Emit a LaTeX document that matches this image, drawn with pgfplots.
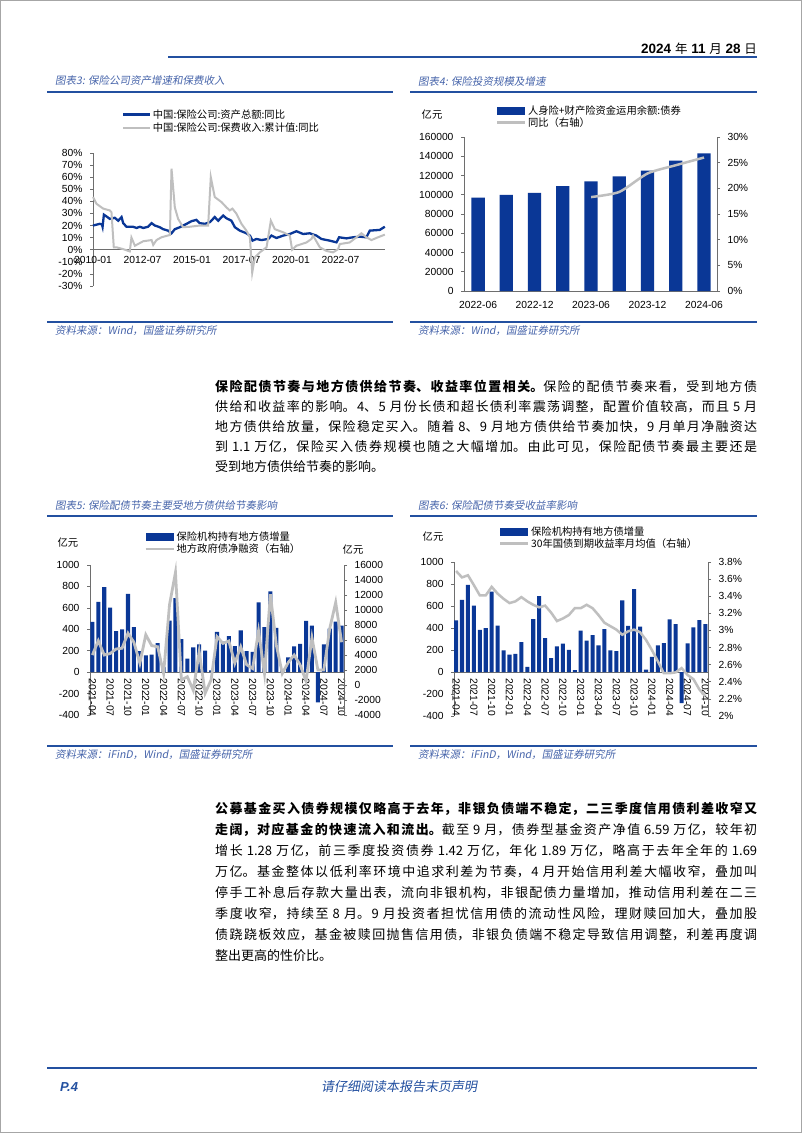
\documentclass[border=0pt]{standalone}
\usepackage{fontspec}
\setmainfont{Liberation Sans}
\newfontfamily\cjk{Noto Sans CJK SC}
\newfontfamily\cjkit{Noto Sans CJK SC}[FakeSlant=0.18]
\usepackage{pgfplots}
\pgfplotsset{compat=1.18}

\definecolor{barblue}{RGB}{10,55,150}
\definecolor{linegray}{RGB}{191,191,191}
\definecolor{rule}{RGB}{35,80,160}
\definecolor{captxt}{RGB}{70,100,170}
\definecolor{axgray}{RGB}{110,110,110}

\XeTeXlinebreaklocale "zh"
\XeTeXlinebreakskip=0pt plus 2pt

\newcommand{\tkf}{\fontsize{10.3bp}{12bp}\selectfont}
\newcommand{\lgf}{\cjk\fontsize{10.3bp}{12bp}\selectfont}
\newcommand{\capf}{\cjkit\fontsize{10.5bp}{12bp}\selectfont}

\pgfplotsset{
  pg/.style={scale only axis, clip=false,
    axis line style={-, axgray, line width=0.6bp},
    tick style={axgray, line width=0.6bp}, major tick length=3bp, tick align=outside,
    ticklabel style={font=\tkf, text=black},
    scaled y ticks=false, scaled x ticks=false,
    legend style={draw=none, fill=none, font=\lgf, inner sep=0pt, row sep=-1.5bp,
      nodes={inner sep=1.5bp}},
    legend cell align=left},
  pgL/.style={pg, axis y line*=left, yticklabel style={xshift=-4bp}},
  pgR/.style={pg, axis y line*=right, axis x line=none, yticklabel style={xshift=4bp}},
  % x axis drawn as a line at y=0, tick labels moved up to it
  zerox/.style={axis x line*=bottom, x axis line style={draw=none},
    extra y ticks={0}, extra y tick labels={},
    extra y tick style={grid=major, major grid style={axgray, line width=0.6bp}}},
}

\begin{document}
\begin{tikzpicture}
\path[use as bounding box] (0,0) rectangle (802bp,-1133bp);
\begin{scope}[x=1bp,y=-1bp]
\fill[white] (0,0) rectangle (802,1133);
\draw[gray!70, line width=1bp] (0.5,0.5) rectangle (801.5,1132.5);

% header
\node[anchor=base east, inner sep=0] at (757,53) {\fontsize{13.5bp}{15bp}\selectfont\bfseries 2024 {\cjk\mdseries\fontsize{12.5bp}{14bp}\selectfont 年} 11 {\cjk\mdseries\fontsize{12.5bp}{14bp}\selectfont 月} 28 {\cjk\mdseries\fontsize{12.5bp}{14bp}\selectfont 日}};
\draw[rule, line width=1.5bp] (168,57) -- (757,57);

% titles and rules of the upper charts
\node[anchor=west, inner sep=0, text=captxt] at (55,81) {\capf 图表3: 保险公司资产增速和保费收入};
\node[anchor=west, inner sep=0, text=captxt] at (418,81) {\capf 图表4: 保险投资规模及增速};
\draw[rule, line width=1.2bp] (47,92) -- (393,92);
\draw[rule, line width=1.2bp] (410,92) -- (757,92);
\draw[rule, line width=1.2bp] (47,322) -- (393,322);
\draw[rule, line width=1.2bp] (410,322) -- (757,322);
\node[anchor=west, inner sep=0, text=captxt] at (55,331) {\capf 资料来源：Wind，国盛证券研究所};
\node[anchor=west, inner sep=0, text=captxt] at (418,331) {\capf 资料来源：Wind，国盛证券研究所};
\node[inner sep=0] at (432,115) {\lgf 亿元};

% first paragraph
\node[anchor=base west, inner sep=0, text width=542bp, align=justify,
  font={\cjk\fontsize{13bp}{20.2bp}\selectfont}] at (215,391) {{\bfseries 保险配债节奏与地方债供给节奏、收益率位置相关。}保险的配债节奏来看，受到地方债\linebreak
供给和收益率的影响。4、5 月份长债和超长债利率震荡调整，配置价值较高，而且 5 月\linebreak
地方债供给放量，保险稳定买入。随着 8、9 月地方债供给节奏加快，9 月单月净融资达\linebreak
到 1.1 万亿，保险买入债券规模也随之大幅增加。由此可见，保险配债节奏最主要还是\linebreak
受到地方债供给节奏的影响。};

% titles and rules of the lower charts
\node[anchor=west, inner sep=0, text=captxt] at (55,505) {\capf 图表5: 保险配债节奏主要受地方债供给节奏影响};
\node[anchor=west, inner sep=0, text=captxt] at (418,505) {\capf 图表6: 保险配债节奏受收益率影响};
\draw[rule, line width=1.2bp] (47,516) -- (393,516);
\draw[rule, line width=1.2bp] (410,516) -- (757,516);
\draw[rule, line width=1.2bp] (47,746) -- (393,746);
\draw[rule, line width=1.2bp] (410,746) -- (757,746);
\node[anchor=west, inner sep=0, text=captxt] at (55,755) {\capf 资料来源：iFinD，Wind，国盛证券研究所};
\node[anchor=west, inner sep=0, text=captxt] at (418,755) {\capf 资料来源：iFinD，Wind，国盛证券研究所};
\node[inner sep=0] at (68,543) {\lgf 亿元};
\node[inner sep=0] at (353,550) {\lgf 亿元};
\node[inner sep=0] at (433,537) {\lgf 亿元};

% second paragraph
\node[anchor=base west, inner sep=0, text width=542bp, align=justify,
  font={\cjk\fontsize{13bp}{21bp}\selectfont}] at (215,813) {{\bfseries 公募基金买入债券规模仅略高于去年，非银负债端不稳定，二三季度信用债利差收窄又\linebreak
走阔，对应基金的快速流入和流出。}截至 9 月，债券型基金资产净值 6.59 万亿，较年初\linebreak
增长 1.28 万亿，前三季度投资债券 1.42 万亿，年化 1.89 万亿，略高于去年全年的 1.69\linebreak
万亿。基金整体以低利率环境中追求利差为节奏，4 月开始信用利差大幅收窄，叠加叫\linebreak
停手工补息后存款大量出表，流向非银机构，非银配债力量增加，推动信用利差在二三\linebreak
季度收窄，持续至 8 月。9 月投资者担忧信用债的流动性风险，理财赎回加大，叠加股\linebreak
债跷跷板效应，基金被赎回抛售信用债，非银负债端不稳定导致信用调整，利差再度调\linebreak
整出更高的性价比。};

% page footer
\draw[rule, line width=1.5bp] (47,1068) -- (757,1068);
\node[anchor=west, inner sep=0, text=rule] at (60,1087) {\fontsize{13bp}{15bp}\selectfont\bfseries\itshape P.4};
\node[inner sep=0, text=rule] at (399,1087) {\cjkit\fontsize{13bp}{15bp}\selectfont 请仔细阅读本报告末页声明};
\end{scope}

% ---------- chart 3 ----------
\begin{axis}[pgL, zerox, at={(93bp,-286bp)}, anchor=south west, width=292bp, height=133bp,
  xmin=0, xmax=177, ymin=-30, ymax=80,
  xtick={0,30,60,90,120,150}, xtick style={draw=none},
  xticklabel style={yshift=36.27bp},
  xticklabels={2010-01,2012-07,2015-01,2017-07,2020-01,2022-07},
  ytick={-30,-20,-10,0,10,20,30,40,50,60,70,80},
  yticklabels={-30\%,-20\%,-10\%,0\%,10\%,20\%,30\%,40\%,50\%,60\%,70\%,80\%},
  legend style={at={(axis description cs:0.099,1.34)}, anchor=north west, row sep=0.5bp},
  legend image code/.code={\draw[#1] (0bp,0bp) -- (27bp,0bp);}]
\addplot[barblue, line width=2.3bp] coordinates {
(0,20)(4.1,21.4)(5.4,21)(5.8,19)(6.6,29)(8.2,27.5)(10.2,25.5)(13.2,26.4)(15.3,24)
(17.3,27)(18.3,22)(20.3,19)(24.3,19)(26.4,18)(28.4,19)(30.4,18)(33.4,19)(35.5,22)
(37.5,20)(40.5,18.6)(42.5,17)(45.5,15.8)(47.6,13.6)(49.6,17)(52.6,18.6)(56.7,21.4)
(59.7,23.6)(62.7,24.7)(64.7,22)(67.8,21.4)(70.8,22.8)(73.8,27)(75.9,24)(78.9,28.3)
(80.9,26)(83.9,24)(86,18.6)(89,15.8)(93,13.6)(95.1,11.7)(96.7,7.5)(99.1,8.9)(102.1,8)
(106.2,8.9)(108.2,11.7)(111.2,9.7)(115.3,11.7)(119.3,13)(123.3,15.3)(127.4,13)
(131.4,13.6)(135.4,11.7)(138.5,8.9)(143.5,7.5)(147.6,6.1)(149.2,10.3)(153.6,9.4)
(157.7,10.3)(161.7,10.8)(165.7,10.3)(167.8,15.8)(173.8,16.4)(176.9,19)};
\addlegendentry{中国:保险公司:资产总额:同比}
\addplot[linegray, line width=2bp] coordinates {
(0,43.6)(2.1,38)(6.2,34)(10.2,32.5)(11.2,31)(12.6,2)(14.2,2)(18.3,0.5)(22.3,-1.4)
(23.3,10)(25.4,3.3)(30.4,7)(35.5,8)(36.5,4)(38.5,8)(41.5,10.3)(46.6,12.2)(47.6,67)
(49.6,35)(51.6,25.5)(54.6,18.6)(58.7,19)(64.7,20)(69.8,20)(71.4,60)(73.8,43.6)
(77.9,39.4)(80.9,35)(82.9,32.5)(84.5,34)(87,29.7)(90,21.4)(93,15.8)(95.1,10.3)
(96.5,-19)(98.1,-6.4)(101.1,-2.2)(105.2,2)(107.8,24)(110.2,17)(115.3,14.4)
(119.3,11.7)(120.7,0)(123.3,3.3)(129.4,6)(132.4,8.9)(133.4,11.7)(137.5,2)(141.5,-1)
(145.5,-2.2)(148.6,0.5)(149.6,4.7)(155.6,6)(159.7,10.3)(162.7,13.6)(165.7,10.3)
(168.8,8)(172.8,10.3)(176.9,12.5)};
\addlegendentry{中国:保险公司:保费收入:累计值:同比}
\end{axis}

% ---------- chart 4 ----------
\begin{axis}[pgL, at={(464bp,-291bp)}, anchor=south west, width=253bp, height=154bp,
  xmin=-0.5, xmax=8.46, ymin=0, ymax=160000,
  axis x line*=bottom,
  xtick={0,2,4,6,8}, xtick style={draw=none}, xticklabel style={yshift=-4bp},
  xticklabels={2022-06,2022-12,2023-06,2023-12,2024-06},
  ytick={0,20000,40000,60000,80000,100000,120000,140000,160000},
  yticklabels={0,20000,40000,60000,80000,100000,120000,140000,160000},
  legend style={at={(axis description cs:0.126,1.215)}, anchor=north west}]
\addplot[ybar, bar width=0.47, fill=barblue, draw=none,
  legend image code/.code={\fill[barblue] (0bp,-4bp) rectangle (28bp,4bp);}]
  coordinates {(0,97000)(1,100000)(2,102000)(3,109000)(4,114000)(5,119000)(6,125000)(7,135500)(8,143000)};
\addlegendentry{人身险+财产险资金运用余额:债券}
\addlegendimage{legend image code/.code={\draw[linegray, line width=2.5bp] (0bp,0bp) -- (28bp,0bp);}}
\addlegendentry{同比（右轴）}
\end{axis}
\begin{axis}[pgR, at={(464bp,-291bp)}, anchor=south west, width=253bp, height=154bp,
  xmin=-0.5, xmax=8.46, ymin=0, ymax=30,
  ytick={0,5,10,15,20,25,30},
  yticklabels={0\%,5\%,10\%,15\%,20\%,25\%,30\%}]
\addplot[linegray, line width=2.5bp, smooth, tension=0.4] coordinates {(4,18.3)(5,19.3)(6,22.9)(7,24.5)(8,26.0)};
\end{axis}

% ---------- chart 5 ----------
\begin{axis}[pgL, zerox, at={(90bp,-715bp)}, anchor=south west, width=254bp, height=150bp,
  xmin=-0.4, xmax=42.4, ymin=-400, ymax=1000,
  xtick={0,3,...,42}, xtick style={draw=none},
  xticklabels={2021-04,2021-07,2021-10,2022-01,2022-04,2022-07,2022-10,2023-01,2023-04,2023-07,2023-10,2024-01,2024-04,2024-07,2024-10},
  xticklabel style={yshift=42.86bp, rotate=-90, anchor=west},
  ytick={-400,-200,0,200,400,600,800,1000},
  yticklabels={-400,-200,0,200,400,600,800,1000},
  legend style={at={(axis description cs:0.213,1.23)}, anchor=north west}]
\addplot[ybar, bar width=0.68, fill=barblue, draw=none,
  legend image code/.code={\fill[barblue] (0bp,-4bp) rectangle (28bp,4bp);}]
  coordinates {(0,469)(1,656)(2,793)(3,603)(4,382)(5,400)(6,731)(7,421)(8,196)(9,157)
  (10,164)(11,272)(12,47)(13,481)(14,690)(15,308)(16,127)(17,232)(18,259)(19,201)
  (20,17)(21,377)(22,286)(23,336)(24,242)(25,389)(26,196)(27,189)(28,652)(29,420)
  (30,753)(31,413)(32,21)(33,137)(34,241)(35,263)(36,478)(37,435)(38,-283)(39,260)
  (40,406)(41,472)(42,435)};
\addlegendentry{保险机构持有地方债增量}
\addlegendimage{legend image code/.code={\draw[linegray, line width=2.8bp] (0bp,0bp) -- (28bp,0bp);}}
\addlegendentry{地方政府债净融资（右轴）}
\end{axis}
\begin{axis}[pgR, at={(90bp,-715bp)}, anchor=south west, width=254bp, height=150bp,
  xmin=-0.4, xmax=42.4, ymin=-4000, ymax=16000,
  ytick={-4000,-2000,0,2000,4000,6000,8000,10000,12000,14000,16000},
  yticklabels={-4000,-2000,0,2000,4000,6000,8000,10000,12000,14000,16000}]
\addplot[linegray, line width=2.8bp] coordinates {
(0,4000)(1,5900)(2,4000)(3,4200)(4,4800)(5,4900)(6,6900)(7,5700)(8,2900)(9,6700)
(10,5250)(11,5100)(12,1550)(13,10700)(14,15000)(15,670)(16,1100)(17,-700)(18,4450)
(19,-1100)(20,670)(21,6450)(22,5550)(23,5870)(24,2900)(25,5100)(26,2700)(27,2200)
(28,7200)(29,1550)(30,12100)(31,5300)(32,1550)(33,3000)(34,4000)(35,2700)(36,530)
(37,6300)(38,2000)(39,2000)(40,7550)(41,11000)(42,5700)};
\end{axis}

% ---------- chart 6 ----------
\begin{axis}[pgL, zerox, at={(454bp,-716bp)}, anchor=south west, width=254bp, height=154bp,
  xmin=-0.35, xmax=42.45, ymin=-400, ymax=1000,
  xtick={0,3,...,42}, xtick style={draw=none},
  xticklabels={2021-04,2021-07,2021-10,2022-01,2022-04,2022-07,2022-10,2023-01,2023-04,2023-07,2023-10,2024-01,2024-04,2024-07,2024-10},
  xticklabel style={yshift=44bp, rotate=-90, anchor=west},
  ytick={-400,-200,0,200,400,600,800,1000},
  yticklabels={-400,-200,0,200,400,600,800,1000},
  legend style={at={(axis description cs:0.177,1.24)}, anchor=north west}]
\addplot[ybar, bar width=0.68, fill=barblue, draw=none,
  legend image code/.code={\fill[barblue] (0bp,-4bp) rectangle (28bp,4bp);}]
  coordinates {(0,469)(1,656)(2,793)(3,603)(4,382)(5,400)(6,731)(7,421)(8,196)(9,157)
  (10,164)(11,272)(12,47)(13,481)(14,690)(15,308)(16,127)(17,232)(18,259)(19,201)
  (20,17)(21,377)(22,286)(23,336)(24,242)(25,389)(26,196)(27,189)(28,652)(29,420)
  (30,753)(31,413)(32,21)(33,137)(34,241)(35,263)(36,478)(37,435)(38,-283)(39,260)
  (40,406)(41,472)(42,435)};
\addlegendentry{保险机构持有地方债增量}
\addlegendimage{legend image code/.code={\draw[linegray, line width=2.5bp] (0bp,0bp) -- (28bp,0bp);}}
\addlegendentry{30年国债到期收益率月均值（右轴）}
\end{axis}
\begin{axis}[pgR, at={(454bp,-716bp)}, anchor=south west, width=254bp, height=154bp,
  xmin=-0.35, xmax=42.45, ymin=2, ymax=3.8,
  ytick={2,2.2,2.4,2.6,2.8,3,3.2,3.4,3.6,3.8},
  yticklabels={2\%,2.2\%,2.4\%,2.6\%,2.8\%,3\%,3.2\%,3.4\%,3.6\%,3.8\%}]
\addplot[linegray, line width=2.5bp] coordinates {
(0,3.695)(1,3.62)(2,3.645)(3,3.53)(4,3.41)(5,3.41)(6,3.51)(7,3.43)(8,3.37)(9,3.32)
(10,3.34)(11,3.39)(12,3.34)(13,3.30)(14,3.27)(15,3.29)(16,3.21)(17,3.11)(18,3.14)
(19,3.18)(20,3.26)(21,3.26)(22,3.30)(23,3.26)(24,3.18)(25,3.09)(26,3.05)(27,3.01)
(28,2.95)(29,2.99)(30,3.01)(31,2.98)(32,2.89)(33,2.77)(34,2.64)(35,2.50)(36,2.50)
(37,2.51)(38,2.56)(39,2.48)(40,2.43)(41,2.31)(42,2.23)};
\end{axis}
\end{tikzpicture}
\end{document}
